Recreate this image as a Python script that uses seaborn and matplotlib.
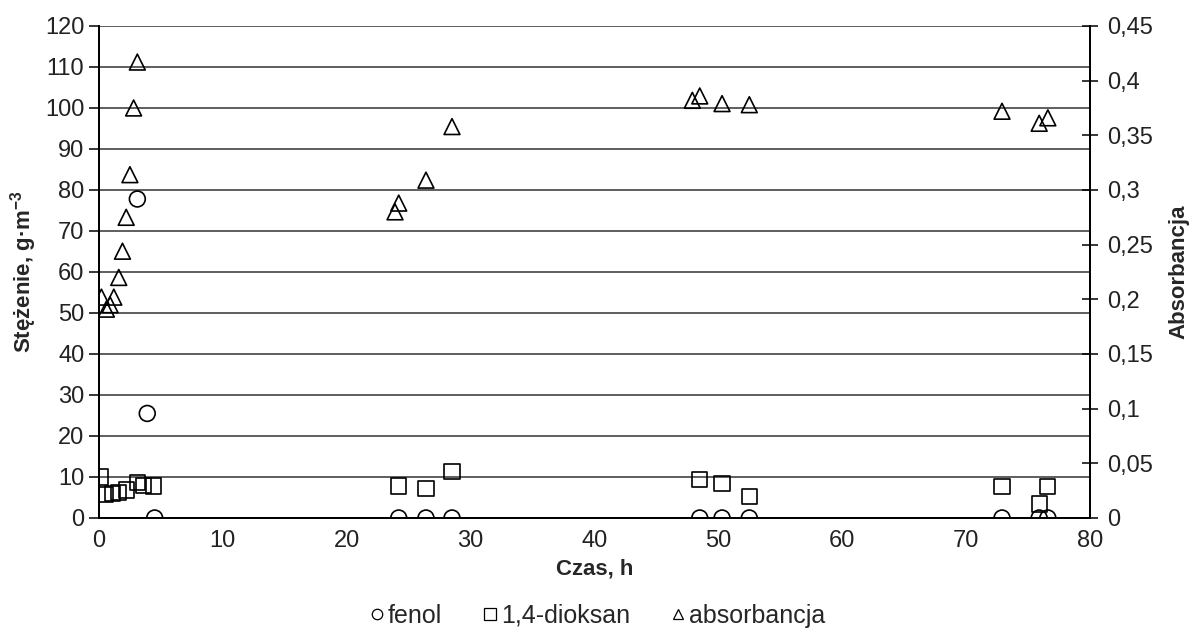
import matplotlib
matplotlib.use("Agg")
import matplotlib.pyplot as plt
from matplotlib.lines import Line2D
from matplotlib.ticker import FuncFormatter, MultipleLocator
import seaborn as sns
import pandas as pd

# Measurements: time [h], phenol and 1,4-dioxane concentration [g/m3], absorbance
fenol_t = [3.1, 3.9, 4.5, 24.2, 26.4, 28.5, 48.5, 50.3, 52.5, 72.9, 75.9, 76.6]
fenol_v = [77.8, 25.5, 0, 0, 0, 0, 0, 0, 0, 0, 0, 0]

dioksan_t = [0.1, 0.5, 1.1, 1.6, 2.2, 3.1, 3.6, 4.4,
             24.2, 26.4, 28.5, 48.5, 50.3, 52.5, 72.9, 75.9, 76.6]
dioksan_v = [10.0, 5.8, 6.0, 6.3, 6.8, 8.7, 8.0, 7.8,
             7.8, 7.1, 11.3, 9.4, 8.5, 5.2, 7.6, 3.4, 7.6]

absorb_t = [0.2, 0.6, 0.9, 1.2, 1.6, 1.9, 2.2, 2.5, 2.8, 3.1,
            23.9, 24.2, 26.4, 28.5, 47.9, 48.5, 50.3, 52.5, 72.9, 75.9, 76.6]
absorb_v = [0.202, 0.191, 0.195, 0.202, 0.220, 0.244, 0.275, 0.314, 0.375, 0.417,
            0.280, 0.288, 0.309, 0.358, 0.382, 0.386, 0.379, 0.378, 0.372, 0.361, 0.366]

labels = ["fenol", "1,4-dioksan", "absorbancja"]

sns.set_theme(style="white")
plt.rcParams["font.family"] = ["Liberation Sans", "DejaVu Sans"]
plt.rcParams["mathtext.default"] = "regular"

fig, ax = plt.subplots(figsize=(11.92, 6.32), dpi=100)
fig.subplots_adjust(left=0.083, right=0.9144, top=0.9589, bottom=0.1804)
ax2 = ax.twinx()

df_f = pd.DataFrame({"t": fenol_t, "v": fenol_v})
df_d = pd.DataFrame({"t": dioksan_t, "v": dioksan_v})
df_a = pd.DataFrame({"t": absorb_t, "v": absorb_v})

mk = dict(facecolor="none", edgecolor="black", linewidth=1.2, legend=False, zorder=5)
sns.scatterplot(data=df_f, x="t", y="v", marker="o", s=130, ax=ax, **mk)
sns.scatterplot(data=df_d, x="t", y="v", marker="s", s=120, ax=ax, **mk)
sns.scatterplot(data=df_a, x="t", y="v", marker="^", s=130, ax=ax2, **mk)

ax.set_xlim(0, 80)
ax.set_ylim(0, 120)
ax2.set_ylim(0, 0.45)
ax.xaxis.set_major_locator(MultipleLocator(10))
ax.yaxis.set_major_locator(MultipleLocator(10))
ax2.yaxis.set_major_locator(MultipleLocator(0.05))
ax2.yaxis.set_major_formatter(FuncFormatter(
    lambda v, p: "0" if abs(v) < 1e-9 else f"{v:.2f}".rstrip("0").replace(".", ",")))

ax.grid(axis="y", color="#333333", linewidth=1.1)
ax.grid(axis="x", visible=False)
ax.set_axisbelow(True)

for a in (ax, ax2):
    for s in ("left", "right", "bottom"):
        a.spines[s].set_color("black")
        a.spines[s].set_linewidth(1.3)
    a.spines["top"].set_visible(False)
    a.tick_params(width=1.1, colors="black", labelsize=17, labelcolor="#222222")
ax.tick_params(axis="y", direction="out", length=7.5, pad=3)
ax.tick_params(axis="x", direction="out", length=5, pad=4)
ax2.tick_params(axis="y", direction="inout", length=11, pad=7)

ax.set_xlabel("Czas, h", fontsize=16, fontweight="bold", labelpad=4)
ax.set_ylabel("Stężenie, g·m$^{-3}$", fontsize=16, fontweight="bold", labelpad=4)
ax2.set_ylabel("Absorbancja", fontsize=16, fontweight="bold", labelpad=11)

handles = [Line2D([], [], linestyle="none", marker=m, markersize=ms,
                  markerfacecolor="none", markeredgecolor="black", markeredgewidth=0.9)
           for m, ms in (("o", 7.5), ("s", 8), ("^", 7.5))]
fig.legend(handles, labels, loc="center", bbox_to_anchor=(0.501, 0.026),
           ncol=3, frameon=False, fontsize=18, handlelength=0.6,
           handletextpad=0.15, columnspacing=1.6, borderaxespad=0)

fig.savefig("out.png", dpi=100)
